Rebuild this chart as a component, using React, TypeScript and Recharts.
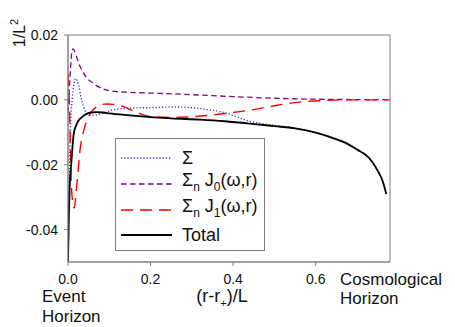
import React from 'react';
import { LineChart, Line, XAxis, YAxis, ReferenceArea } from 'recharts';

// Sum over all modes
const sigmaX = [0, 0.002, 0.004, 0.006, 0.01, 0.014, 0.019, 0.025, 0.034, 0.046, 0.056, 0.066, 0.08, 0.09, 0.104, 0.126, 0.16, 0.2, 0.26, 0.32, 0.38, 0.44, 0.5, 0.55, 0.6, 0.64, 0.67, 0.7, 0.73, 0.75, 0.762, 0.771];
const sigmaY = [-0.05, -0.035, -0.02, -0.008, 0.0, 0.0045, 0.0066, 0.0048, -0.0006, -0.0042, -0.0047, -0.0047, -0.0043, -0.0039, -0.0032, -0.0028, -0.0025, -0.0024, -0.0022, -0.0027, -0.004, -0.0066, -0.0079, -0.0087, -0.01, -0.0116, -0.013, -0.0152, -0.0179, -0.0217, -0.0249, -0.029];

// Sum_n J0(w,r)
const j0X = [0, 0.003, 0.006, 0.009, 0.012, 0.016, 0.022, 0.028, 0.034, 0.045, 0.058, 0.07, 0.082, 0.106, 0.15, 0.2, 0.3, 0.4, 0.5, 0.6, 0.7, 0.78];
const j0Y = [-0.004, 0.003, 0.0095, 0.0145, 0.0157, 0.015, 0.0128, 0.0106, 0.0092, 0.0068, 0.0054, 0.0043, 0.0035, 0.0027, 0.0023, 0.0021, 0.0016, 0.001, 0.0005, 0.0002, 0.0001, 0.0001];

// Sum_n J1(w,r)
const j1X = [0, 0.002, 0.003, 0.005, 0.007, 0.01, 0.015, 0.02, 0.025, 0.029, 0.038, 0.046, 0.058, 0.069, 0.08, 0.094, 0.11, 0.126, 0.16, 0.2, 0.26, 0.32, 0.38, 0.44, 0.5, 0.56, 0.62, 0.66, 0.72, 0.78];
const j1Y = [0.008, 0.004, 0.0, -0.01, -0.022, -0.03, -0.0334, -0.028, -0.021, -0.0156, -0.0095, -0.0063, -0.0035, -0.0022, -0.0015, -0.0013, -0.0014, -0.0017, -0.0035, -0.0052, -0.0054, -0.005, -0.0042, -0.0032, -0.0018, -0.0007, -0.0002, 0, 0, 0];

// Total
const totalX = [0, 0.002, 0.004, 0.008, 0.014, 0.02, 0.026, 0.033, 0.041, 0.055, 0.07, 0.085, 0.1, 0.15, 0.2, 0.25, 0.32, 0.38, 0.44, 0.5, 0.55, 0.6, 0.64, 0.67, 0.7, 0.73, 0.75, 0.762, 0.771];
const totalY = [-0.05, -0.036, -0.027, -0.0196, -0.0103, -0.0078, -0.0063, -0.0054, -0.0046, -0.0039, -0.0038, -0.0039, -0.0042, -0.0048, -0.0053, -0.0057, -0.0061, -0.0066, -0.0073, -0.0081, -0.0088, -0.0101, -0.0117, -0.0131, -0.0153, -0.018, -0.0218, -0.025, -0.029];

const xTicks = [0, 0.2, 0.4, 0.6];
const yTicks = [-0.04, -0.02, 0, 0.02];

const toPoints = (xs: number[], ys: number[]) => xs.map((x, i) => ({ x, y: ys[i] }));

const FONT = '"Liberation Sans", Arial, sans-serif';
const AXIS = '#808080';

const series = [
  { key: 'sigma', data: toPoints(sigmaX, sigmaY), color: '#3535e8', dash: '1.2 2', width: 1.4, label: <>Σ</> },
  { key: 'j0', data: toPoints(j0X, j0Y), color: '#800080', dash: '5.5 3.5', width: 1.3, label: <>Σ<sub style={{ fontSize: 12 }}>n</sub> J<sub style={{ fontSize: 12 }}>0</sub>(ω,r)</> },
  { key: 'j1', data: toPoints(j1X, j1Y), color: '#ff0000', dash: '12 7', width: 1.4, label: <>Σ<sub style={{ fontSize: 12 }}>n</sub> J<sub style={{ fontSize: 12 }}>1</sub>(ω,r)</> },
  { key: 'total', data: toPoints(totalX, totalY), color: '#000000', dash: undefined, width: 1.8, label: <>Total</> },
];

const legendRows = [157, 182.7, 208.5, 234];

const App: React.FC = () => {
  return (
    <div style={{ position: 'absolute', left: 0, top: 0, width: 455, height: 327, background: '#fff', fontFamily: FONT }}>
      <LineChart width={455} height={327} margin={{ top: 35, right: 65, bottom: 5, left: 0 }}>
        <XAxis
          type="number"
          dataKey="x"
          domain={[0, 0.78]}
          ticks={xTicks}
          allowDataOverflow
          tickFormatter={(v: number) => v.toFixed(1)}
          height={60}
          tickSize={4}
          tickMargin={8}
          stroke={AXIS}
          tick={{ fill: '#111', fontSize: 14, fontFamily: FONT }}
        />
        <YAxis
          type="number"
          domain={[-0.05, 0.02]}
          ticks={yTicks}
          allowDataOverflow
          tickFormatter={(v: number) => v.toFixed(2)}
          width={68}
          tickSize={4}
          tickMargin={6}
          stroke={AXIS}
          tick={{ fill: '#111', fontSize: 14, fontFamily: FONT }}
        />
        <ReferenceArea x1={0} x2={0.78} y1={-0.05} y2={0.02} fill="none" fillOpacity={0} stroke={AXIS} strokeWidth={1} />
        {series.map((s) => (
          <Line
            key={s.key}
            data={s.data}
            dataKey="y"
            type="monotone"
            stroke={s.color}
            strokeWidth={s.width}
            strokeDasharray={s.dash}
            dot={false}
            activeDot={false}
            isAnimationActive={false}
          />
        ))}
      </LineChart>

      {/* legend box */}
      <div style={{ position: 'absolute', left: 115, top: 138, width: 150, height: 113, border: `1px solid ${AXIS}`, boxSizing: 'border-box', background: '#fff' }}>
        {series.map((s, i) => (
          <div key={s.key} style={{ position: 'absolute', left: 0, top: legendRows[i] - 138 - 13, height: 26, display: 'flex', alignItems: 'center', whiteSpace: 'nowrap' }}>
            <svg width={51} height={4} style={{ marginLeft: 5, display: 'block' }}>
              <line x1={0} y1={2} x2={51} y2={2} stroke={s.color} strokeWidth={s.width} strokeDasharray={s.dash} />
            </svg>
            <span style={{ marginLeft: 10, fontSize: 18, lineHeight: '18px', color: '#111' }}>{s.label}</span>
          </div>
        ))}
      </div>

      {/* axis titles */}
      <div style={{ position: 'absolute', left: 17, top: 33, transform: 'translate(-50%, -50%) rotate(-90deg)', fontSize: 16, lineHeight: '18px', whiteSpace: 'nowrap', color: '#111' }}>
        1/L<sup style={{ fontSize: 11 }}>2</sup>
      </div>
      <div style={{ position: 'absolute', left: 222, top: 287, transform: 'translateX(-50%)', fontSize: 18, lineHeight: '18px', whiteSpace: 'nowrap', color: '#111' }}>
        (r-r<sub style={{ fontSize: 11 }}>+</sub>)/L
      </div>
      <div style={{ position: 'absolute', left: 42, top: 286.5, fontSize: 17, lineHeight: '20px', color: '#111' }}>
        Event<br />Horizon
      </div>
      <div style={{ position: 'absolute', left: 340, top: 269.6, fontSize: 17, lineHeight: '19px', color: '#111' }}>
        Cosmological<br />Horizon
      </div>
    </div>
  );
};

export default App;
